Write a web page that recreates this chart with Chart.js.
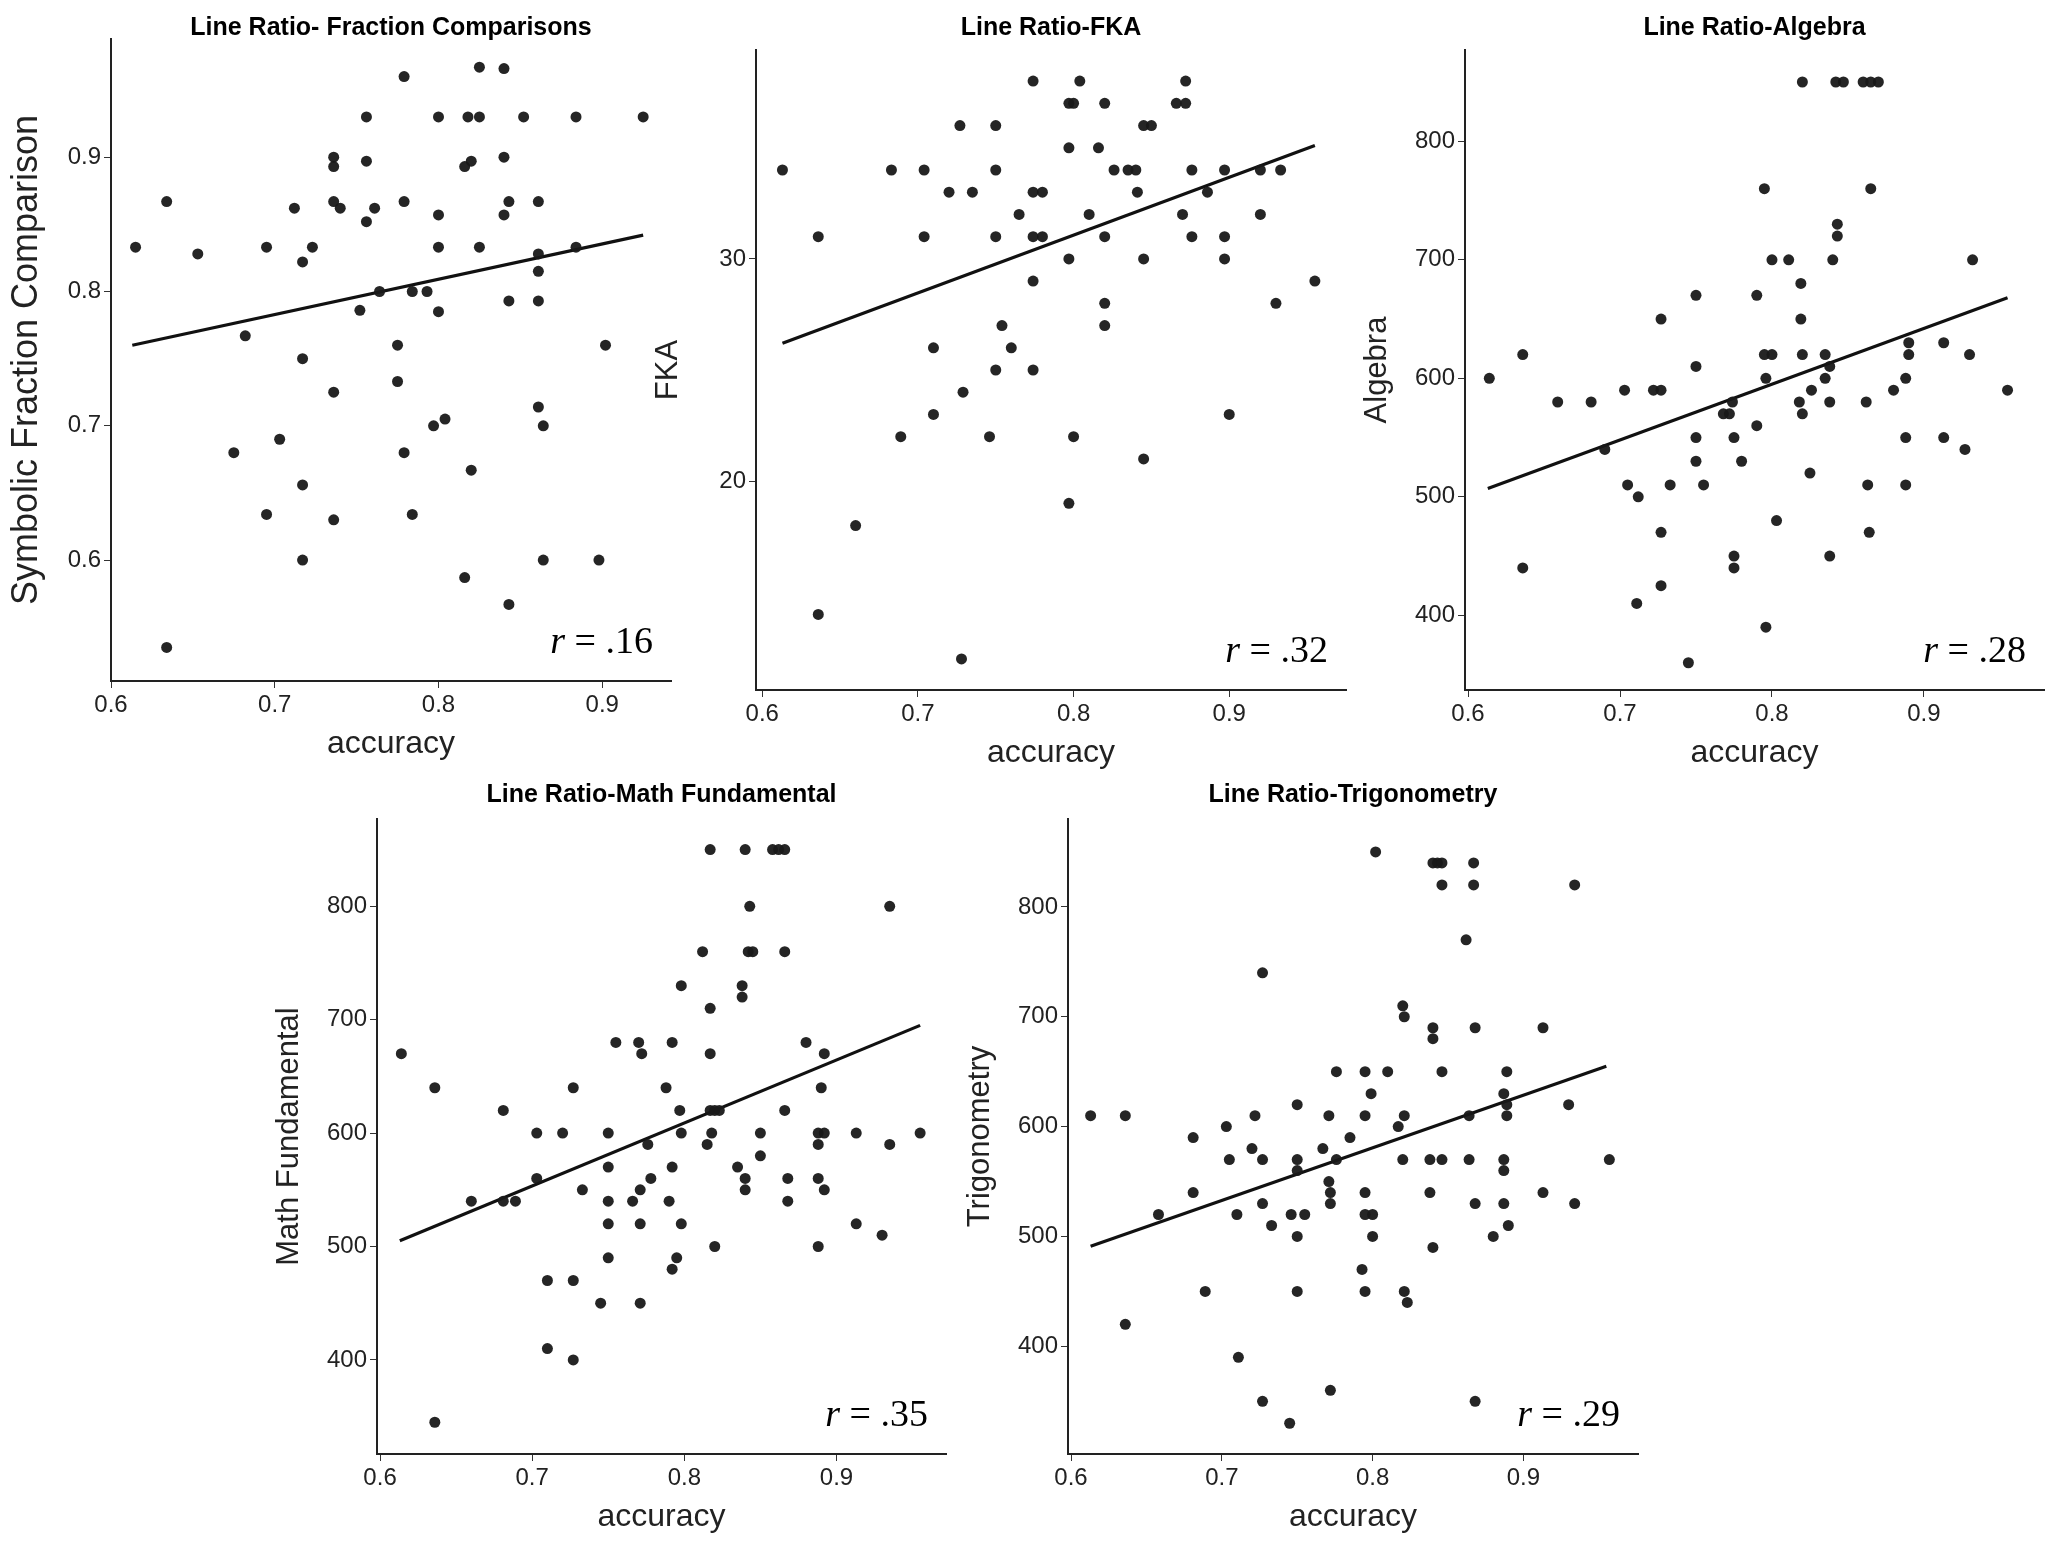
<!DOCTYPE html>
<html><head><meta charset="utf-8">
<script src="https://cdn.jsdelivr.net/npm/chart.js@4.4.0/dist/chart.umd.min.js"></script>
<style>body{margin:0;background:#fff;width:2055px;height:1541px;position:relative;overflow:hidden}canvas{position:absolute}</style>
</head><body>
<canvas id="c1"></canvas><canvas id="c2"></canvas><canvas id="c3"></canvas><canvas id="c4"></canvas><canvas id="c5"></canvas>
<script>
const titles=["Line Ratio- Fraction Comparisons","Line Ratio-FKA","Line Ratio-Algebra","Line Ratio-Math Fundamental","Line Ratio-Trigonometry"];
const yTitles=["Symbolic Fraction Comparison","FKA","Algebra","Math Fundamental","Trigonometry"];
const rValues=[" = .16"," = .32"," = .28"," = .35"," = .29"];
const xTicks=[0.6,0.7,0.8,0.9];
const yTicks1=[0.6,0.7,0.8,0.9], yTicks2=[20,30], yTicks3=[400,500,600,700,800];

const frac=[[0.615,0.833],[0.634,0.867],[0.653,0.828],[0.634,0.535],[0.675,0.68],[0.682,0.767],[0.695,0.833],[0.695,0.634],[0.703,0.69],[0.712,0.862],[0.717,0.822],[0.717,0.75],[0.717,0.656],[0.717,0.6],[0.723,0.833],[0.736,0.9],[0.736,0.893],[0.736,0.867],[0.74,0.862],[0.736,0.725],[0.736,0.63],[0.752,0.786],[0.756,0.93],[0.756,0.897],[0.756,0.852],[0.761,0.862],[0.764,0.8],[0.775,0.76],[0.775,0.733],[0.779,0.96],[0.779,0.867],[0.779,0.68],[0.784,0.8],[0.784,0.634],[0.793,0.8],[0.797,0.7],[0.8,0.93],[0.8,0.857],[0.8,0.833],[0.8,0.785],[0.804,0.705],[0.816,0.893],[0.818,0.93],[0.82,0.897],[0.82,0.667],[0.816,0.587],[0.825,0.967],[0.825,0.93],[0.825,0.833],[0.84,0.966],[0.84,0.9],[0.84,0.857],[0.843,0.867],[0.843,0.793],[0.843,0.567],[0.852,0.93],[0.861,0.867],[0.861,0.828],[0.861,0.815],[0.861,0.793],[0.861,0.714],[0.864,0.7],[0.864,0.6],[0.884,0.833],[0.884,0.93],[0.898,0.6],[0.902,0.76],[0.925,0.93]];
const fka=[[0.613,34],[0.636,31],[0.636,14],[0.66,18],[0.683,34],[0.689,22],[0.704,34],[0.704,31],[0.71,26],[0.71,23],[0.72,33],[0.727,36],[0.729,24],[0.728,12],[0.735,33],[0.746,22],[0.75,36],[0.75,34],[0.75,31],[0.754,27],[0.76,26],[0.75,25],[0.765,32],[0.774,38],[0.774,33],[0.78,33],[0.774,31],[0.78,31],[0.774,29],[0.774,25],[0.797,37],[0.804,38],[0.8,37],[0.797,35],[0.797,30],[0.797,19],[0.8,22],[0.81,32],[0.816,35],[0.82,37],[0.82,28],[0.82,27],[0.82,31],[0.826,34],[0.835,34],[0.841,33],[0.84,34],[0.845,30],[0.845,36],[0.85,36],[0.845,21],[0.866,37],[0.872,38],[0.872,37],[0.876,34],[0.876,31],[0.87,32],[0.886,33],[0.897,34],[0.897,30],[0.897,31],[0.9,23],[0.92,32],[0.92,34],[0.93,28],[0.933,34],[0.955,29]];
const alg=[[0.614,600],[0.636,620],[0.636,440],[0.659,580],[0.681,580],[0.69,540],[0.703,590],[0.705,510],[0.711,410],[0.712,500],[0.722,590],[0.727,590],[0.727,650],[0.727,470],[0.727,425],[0.733,510],[0.745,360],[0.75,670],[0.75,610],[0.75,530],[0.75,550],[0.755,510],[0.768,570],[0.772,570],[0.774,580],[0.775,550],[0.775,450],[0.775,440],[0.78,530],[0.79,560],[0.79,670],[0.795,760],[0.795,620],[0.796,600],[0.796,390],[0.8,620],[0.8,700],[0.803,480],[0.811,700],[0.818,580],[0.819,680],[0.819,650],[0.82,620],[0.82,850],[0.82,570],[0.825,520],[0.826,590],[0.835,600],[0.835,620],[0.838,580],[0.838,610],[0.838,450],[0.84,700],[0.842,850],[0.847,850],[0.843,730],[0.843,720],[0.862,580],[0.863,510],[0.864,470],[0.865,760],[0.86,850],[0.865,850],[0.87,850],[0.88,590],[0.888,600],[0.888,550],[0.888,510],[0.89,620],[0.89,630],[0.913,630],[0.913,550],[0.927,540],[0.932,700],[0.93,620],[0.955,590]];
const mf=[[0.614,670],[0.636,640],[0.636,345],[0.66,540],[0.681,620],[0.681,540],[0.689,540],[0.703,600],[0.703,560],[0.71,470],[0.71,410],[0.72,600],[0.727,640],[0.727,470],[0.727,400],[0.733,550],[0.745,450],[0.75,600],[0.75,570],[0.75,540],[0.75,520],[0.75,490],[0.755,680],[0.766,540],[0.77,680],[0.771,550],[0.771,520],[0.771,450],[0.772,670],[0.776,590],[0.778,560],[0.788,640],[0.79,540],[0.792,570],[0.792,680],[0.792,480],[0.795,490],[0.797,620],[0.798,600],[0.798,730],[0.798,520],[0.812,760],[0.815,590],[0.817,620],[0.817,710],[0.817,670],[0.817,850],[0.818,600],[0.82,620],[0.823,620],[0.82,500],[0.835,570],[0.838,730],[0.838,720],[0.84,550],[0.84,560],[0.84,850],[0.842,760],[0.845,760],[0.843,800],[0.85,600],[0.85,580],[0.858,850],[0.862,850],[0.866,850],[0.866,760],[0.866,620],[0.868,560],[0.868,540],[0.88,680],[0.888,590],[0.888,600],[0.888,560],[0.888,500],[0.89,640],[0.892,670],[0.892,550],[0.892,600],[0.913,600],[0.913,520],[0.93,510],[0.935,590],[0.935,800],[0.955,600]];
const trig=[[0.613,610],[0.636,610],[0.636,420],[0.658,520],[0.681,590],[0.681,540],[0.689,450],[0.703,600],[0.705,570],[0.71,520],[0.711,390],[0.72,580],[0.722,610],[0.727,740],[0.727,570],[0.727,530],[0.727,350],[0.733,510],[0.746,520],[0.75,620],[0.75,570],[0.75,560],[0.75,500],[0.75,450],[0.745,330],[0.755,520],[0.767,580],[0.771,610],[0.771,550],[0.772,540],[0.772,530],[0.772,360],[0.776,650],[0.776,570],[0.785,590],[0.793,470],[0.795,650],[0.795,610],[0.795,540],[0.795,520],[0.795,450],[0.8,520],[0.8,500],[0.799,630],[0.802,850],[0.81,650],[0.817,600],[0.82,570],[0.82,710],[0.821,700],[0.821,610],[0.821,450],[0.823,440],[0.838,540],[0.838,570],[0.84,690],[0.84,680],[0.84,840],[0.84,490],[0.843,840],[0.846,840],[0.846,820],[0.846,650],[0.846,570],[0.862,770],[0.864,570],[0.864,610],[0.867,840],[0.867,820],[0.868,690],[0.868,530],[0.868,350],[0.88,500],[0.887,630],[0.887,570],[0.887,560],[0.887,530],[0.889,620],[0.889,610],[0.889,650],[0.89,510],[0.913,690],[0.913,540],[0.93,620],[0.934,530],[0.934,820],[0.957,570]];
const fit1=[[0.613,0.76],[0.925,0.842]], fit2=[[0.613,26.2],[0.955,35.1]], fit3=[[0.613,507],[0.955,668]], fit4=[[0.613,505],[0.955,695]], fit5=[[0.613,491],[0.955,655]];

const panels=[
 {id:'c1',data:frac,fit:fit1,yt:yTicks1,px:[111,671],py:[39,681],cTop:0,titleY:28,xr:[0.6,0.942],yr:[0.51,0.988],ytSize:36},
 {id:'c2',data:fka,fit:fit2,yt:yTicks2,px:[756,1346],py:[50,690],cTop:0,titleY:28,xr:[0.596,0.975],yr:[10.6,39.4],ytSize:31},
 {id:'c3',data:alg,fit:fit3,yt:yTicks3,px:[1465,2044],py:[50,690],cTop:0,titleY:28,xr:[0.598,0.979],yr:[337,877],ytSize:31},
 {id:'c4',data:mf,fit:fit4,yt:yTicks3,px:[377,946],py:[819,1454],cTop:770,titleY:795,xr:[0.598,0.972],yr:[317,877],ytSize:31},
 {id:'c5',data:trig,fit:fit5,yt:yTicks3,px:[1068,1638],py:[819,1454],cTop:770,titleY:795,xr:[0.598,0.976],yr:[302,880],ytSize:31}
];
const YW=110, XH=82, PR=8;
panels.forEach((p,i)=>{
  const cv=document.getElementById(p.id);
  const left=p.px[0]-YW, w=YW+(p.px[1]-p.px[0])+PR, padTop=p.py[0]-p.cTop, h=padTop+(p.py[1]-p.py[0])+XH;
  cv.style.left=left+'px'; cv.style.top=p.cTop+'px'; cv.width=w; cv.height=h; cv.style.width=w+'px'; cv.style.height=h+'px';
  const deco={id:'deco',afterDraw(c){const x=c.ctx,a=c.chartArea;x.save();
    x.fillStyle='#000';x.font='bold 25px "Liberation Sans", Arial';x.textAlign='center';x.textBaseline='middle';
    x.fillText(titles[i],(a.left+a.right)/2,p.titleY-p.cTop);
    x.textBaseline='alphabetic';x.textAlign='left';
    x.font='38px "Liberation Serif", "Times New Roman"';const w2=x.measureText(rValues[i]).width;
    x.font='italic 38px "Liberation Serif", "Times New Roman"';const w1=x.measureText('r').width;
    const xs=a.right-18-w1-w2, yb=a.bottom-28;
    x.fillText('r',xs,yb);x.font='38px "Liberation Serif", "Times New Roman"';x.fillText(rValues[i],xs+w1,yb);x.restore();}};
  new Chart(cv,{type:'scatter',plugins:[deco],
    data:{datasets:[
      {data:p.data.map(d=>({x:d[0],y:d[1]})),pointRadius:5.5,pointBackgroundColor:'rgba(25,25,25,0.95)',pointBorderWidth:0},
      {data:p.fit.map(d=>({x:d[0],y:d[1]})),showLine:true,pointRadius:0,borderColor:'#111',borderWidth:3.2}
    ]},
    options:{responsive:false,devicePixelRatio:1,animation:false,
      layout:{padding:{top:padTop,right:PR,left:0,bottom:0}},
      plugins:{legend:{display:false},tooltip:{enabled:false}},
      scales:{
        x:{type:'linear',min:p.xr[0],max:p.xr[1],afterBuildTicks:a=>{a.ticks=xTicks.map(v=>({value:v}));},afterFit:a=>{a.height=XH;},
          grid:{drawOnChartArea:false,drawTicks:true,tickLength:7,color:'#333'},border:{display:true,color:'#222',width:2},
          ticks:{color:'#222',font:{size:24,family:'"Liberation Sans", Arial'},padding:3,callback:v=>v.toFixed(1)},
          title:{display:true,text:'accuracy',color:'#222',font:{size:32,family:'"Liberation Sans", Arial'},padding:{top:0,bottom:0}}},
        y:{type:'linear',min:p.yr[0],max:p.yr[1],afterBuildTicks:a=>{a.ticks=p.yt.map(v=>({value:v}));},afterFit:a=>{a.width=YW;},
          grid:{drawOnChartArea:false,drawTicks:true,tickLength:7,color:'#333'},border:{display:true,color:'#222',width:2},
          ticks:{color:'#222',font:{size:24,family:'"Liberation Sans", Arial'},padding:3,callback:v=>i===0?v.toFixed(1):String(v)},
          title:{display:true,text:yTitles[i],color:'#222',font:{size:p.ytSize,family:'"Liberation Sans", Arial'},padding:{bottom:2}}}
      }}});
});
</script></body></html>
